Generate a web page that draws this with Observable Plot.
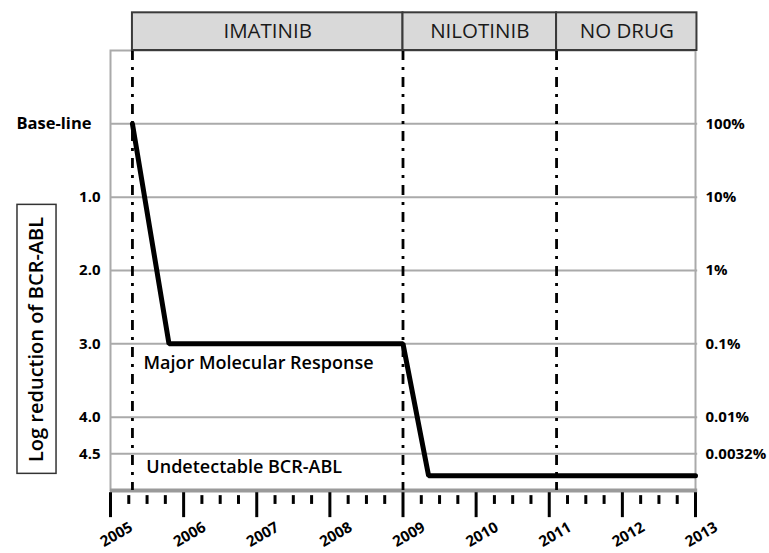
<!DOCTYPE html>
<html><head><meta charset="utf-8">
<script src="https://cdn.jsdelivr.net/npm/d3@7"></script>
<script src="https://cdn.jsdelivr.net/npm/@observablehq/plot@0.6"></script>
<style>body{margin:0;background:#fff} svg{display:block}</style>
</head><body><div id="chart"></div>
<script>
// ---- data ----
const years = [2005.3, 2005.8, 2009.0, 2009.35, 2013];
const logReduction = [0, 3, 3, 4.8, 4.8];
const gridLevels = [0, 1, 2, 3, 4, 4.5];
const leftLabels = ["Base-line", "1.0", "2.0", "3.0", "4.0", "4.5"];
const rightLabels = ["100%", "10%", "1%", "0.1%", "0.01%", "0.0032%"];
const phases = ["IMATINIB", "NILOTINIB", "NO DRUG"];
const phaseStart = [2005.3, 2009.0, 2011.1];
const phaseEnd = [2009.0, 2011.1, 2013.02];
const tickYears = [2005, 2006, 2007, 2008, 2009, 2010, 2011, 2012, 2013];
const annotations = ["Major Molecular Response", "Undetectable BCR-ABL"];
const annotationX = [2005.45, 2005.49];
const annotationY = [3.27, 4.68];
const yTitle = "Log reduction of BCR-ABL";

// ---- tables ----
const series = years.map((x, i) => ({x, y: logReduction[i]}));
const levels = gridLevels.map((y, i) => ({y, left: leftLabels[i], right: rightLabels[i]}));
const phaseRows = phases.map((p, i) => ({p, x1: phaseStart[i], x2: phaseEnd[i]}));
const minorTicks = d3.range(2005, 2013, 0.25).filter(v => v % 1 !== 0);
const notes = annotations.map((t, i) => ({t, x: annotationX[i], y: annotationY[i]}));

const headerTop = -1.514, headerBottom = -1.0;
const font = "'Open Sans', sans-serif";

const chart = Plot.plot({
  width: 769, height: 553,
  marginTop: 50, marginBottom: 63, marginLeft: 110, marginRight: 74,
  x: {domain: [2005, 2013], axis: null},
  y: {domain: [5, -1], axis: null},
  style: {fontFamily: font, background: "#fff", color: "#000"},
  marks: [
    Plot.frame({stroke: "#aaa", strokeWidth: 2}),
    Plot.ruleY(levels, {y: "y", x1: 2005, x2: 2013.03, stroke: "#aaa", strokeWidth: 2}),
    // bottom axis bar
    Plot.ruleY([5], {x1: 2005, x2: 2013.03, stroke: "#9a9a9a", strokeWidth: 4}),
    Plot.ruleX(tickYears, {x: d => d, y1: 5.03, y2: 5.37, stroke: "#000", strokeWidth: 3}),
    Plot.ruleX(minorTicks, {x: d => d, y1: 5.07, y2: 5.19, stroke: "#000", strokeWidth: 3}),
    Plot.text(tickYears, {x: d => d, y: 5.6, text: d => String(d), rotate: -30, dx: 6,
      fontSize: 15, fontWeight: "bold", fill: "#000"}),
    // phase separators
    Plot.ruleX(phaseStart, {x: d => d, y1: -1, y2: 5, stroke: "#000", strokeWidth: 2.8,
      strokeDasharray: "10,7,3,7"}),
    // phase header boxes
    Plot.rect(phaseRows, {x1: "x1", x2: "x2", y1: headerTop, y2: headerBottom,
      fill: "#d9d9d9", stroke: "#3a3a3a", strokeWidth: 2}),
    Plot.text(phaseRows, {x: d => (d.x1 + d.x2) / 2, y: (headerTop + headerBottom) / 2, text: "p",
      fontSize: 20.5, fill: "#1a1a1a"}),
    // the response line
    Plot.line(series, {x: "x", y: "y", stroke: "#000", strokeWidth: 5, strokeLinejoin: "miter"}),
    // left/right labels
    Plot.text(levels.slice(0, 1), {x: 2005, y: "y", text: "left", textAnchor: "end",
      dx: -19, fontSize: 16.5, fontWeight: "bold", fill: "#000"}),
    Plot.text(levels.slice(1), {x: 2005, y: "y", text: "left", textAnchor: "end",
      dx: -10, fontSize: 15, fontWeight: "bold", fill: "#000"}),
    Plot.text(levels, {x: 2013, y: "y", text: "right", textAnchor: "start",
      dx: 10, fontSize: 15, fontWeight: "bold", fill: "#000"}),
    // annotations
    Plot.text(notes, {x: "x", y: "y", text: "t", textAnchor: "start",
      fontSize: 18, fontWeight: 600, fill: "#000"}),
    // y title with box
    Plot.rect([0], {x1: 2003.728, x2: 2004.262, y1: 1.105, y2: 4.773, fill: "none", stroke: "#333", strokeWidth: 1.5}),
    Plot.text([yTitle], {x: 2003.995, y: 2.94, text: d => d, rotate: -90,
      fontSize: 20, fontWeight: 600, fill: "#000"})
  ]
});
document.getElementById("chart").append(chart);
</script>
</body></html>
